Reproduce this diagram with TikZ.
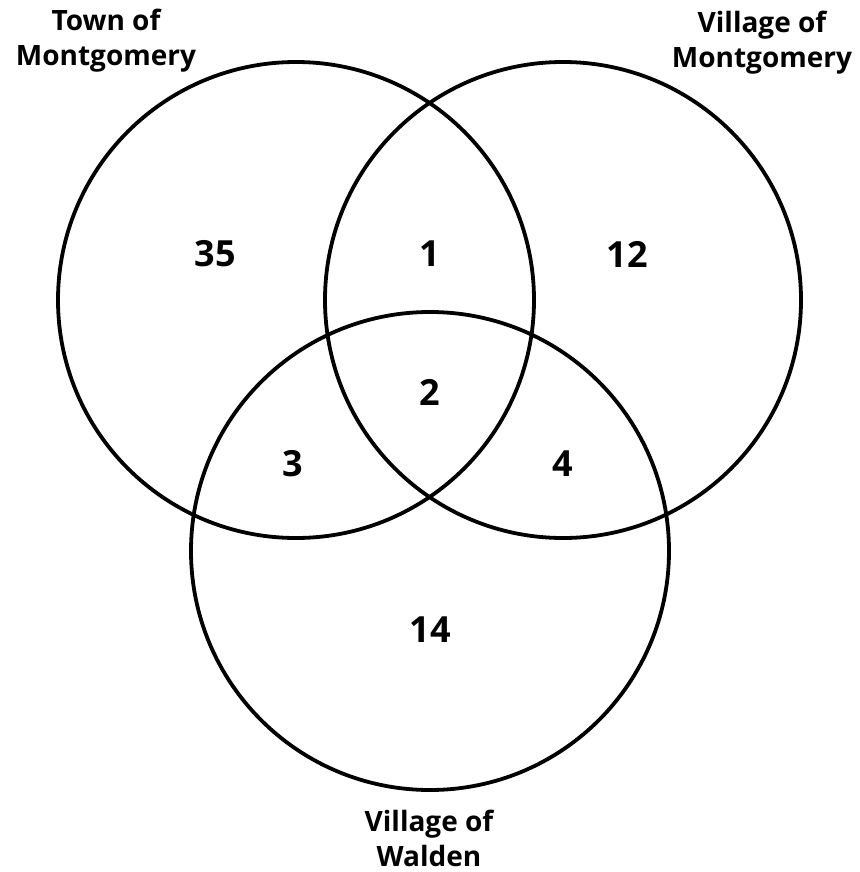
\documentclass[tikz,border=0pt]{standalone}
\usepackage{fontspec}
\setmainfont{Open Sans}[BoldFont={* Bold}]
\begin{document}
\begin{tikzpicture}[x=1pt,y=-1pt,
  ring/.style={draw=black,line width=3.8pt},
  lbl/.style={font=\fontsize{28}{35}\selectfont\bfseries,align=center,inner sep=0pt},
  num/.style={font=\fontsize{36}{40}\selectfont\bfseries,inner sep=0pt}]
\useasboundingbox (0,0) rectangle (859,872);
\draw[ring] (296,300) circle[radius=238];
\draw[ring] (563,300) circle[radius=238];
\draw[ring] (430,551) circle[radius=239];
\node[lbl] (town) at (106,41) {Town of\\Montgomery};
\node[lbl] (vmont) at (762,43) {Village of\\Montgomery};
\node[lbl] (walden) at (429,838) {Village of\\Walden};
\node[num] (n35) at (215,254) {35};
\node[num] (n1) at (430,254) {1};
\node[num] (n12) at (627,254) {12};
\node[num] (n2) at (430,392) {2};
\node[num] (n3) at (293,464) {3};
\node[num] (n4) at (563,464) {4};
\node[num] (n14) at (430,630) {14};
\end{tikzpicture}
\end{document}
